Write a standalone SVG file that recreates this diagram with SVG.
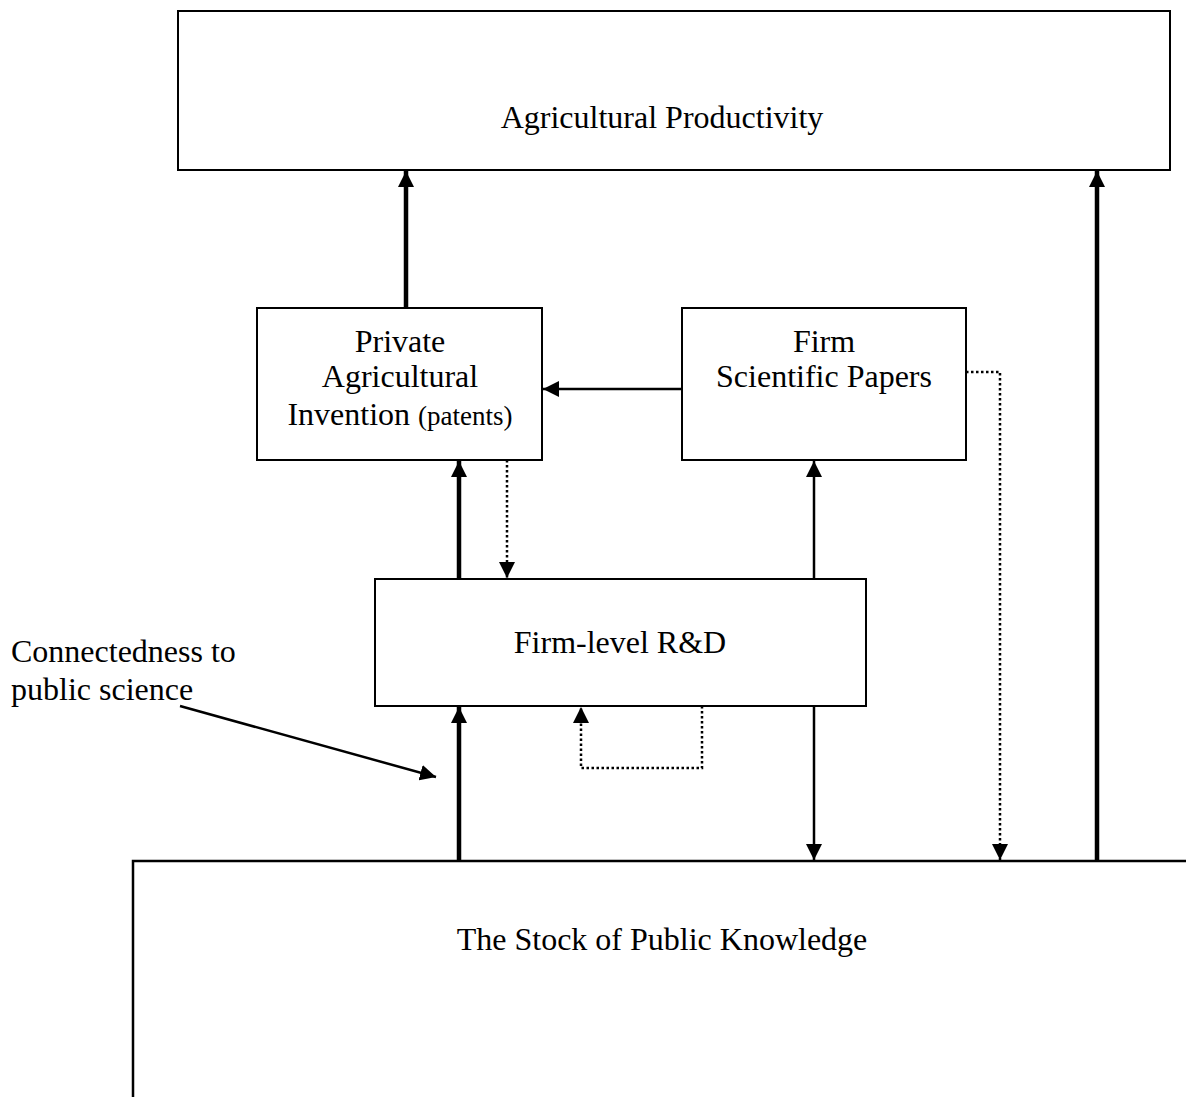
<svg xmlns="http://www.w3.org/2000/svg" width="1186" height="1097" viewBox="0 0 1186 1097">
<style>
.box{fill:#fff;stroke:#000;stroke-width:2}
.t{font-family:"Liberation Serif","Times New Roman",serif;font-size:32px;fill:#000}
.thick{stroke:#000;stroke-width:4.5;fill:none}
.thin{stroke:#000;stroke-width:2.5;fill:none}
.dot{stroke:#000;stroke-width:2.5;fill:none;stroke-dasharray:2.5 2.5}
</style>
<defs>
<marker id="ah" markerUnits="userSpaceOnUse" markerWidth="16" markerHeight="16" viewBox="0 0 16 16" refX="16" refY="8" orient="auto">
<path d="M0,0 L16,8 L0,16 Z" fill="#000"/>
</marker>
</defs>
<g id="agricultural-productivity">
<rect class="box" x="178" y="11" width="992" height="159"/>
<text class="t" x="662" y="128" text-anchor="middle">Agricultural Productivity</text>
</g>
<g id="private-invention">
<rect class="box" x="257" y="308" width="285" height="152"/>
<text class="t" x="400" y="352" text-anchor="middle">Private</text>
<text class="t" x="400" y="387" text-anchor="middle">Agricultural</text>
<text class="t" x="400" y="425" text-anchor="middle">Invention <tspan font-size="27">(patents)</tspan></text>
</g>
<g id="firm-papers">
<rect class="box" x="682" y="308" width="284" height="152"/>
<text class="t" x="824" y="352" text-anchor="middle">Firm</text>
<text class="t" x="824" y="387" text-anchor="middle">Scientific Papers</text>
</g>
<g id="firm-rd">
<rect class="box" x="375" y="579" width="491" height="127"/>
<text class="t" x="620" y="653" text-anchor="middle">Firm-level R&amp;D</text>
</g>
<g id="public-knowledge">
<path d="M1186,861 H133 V1097" fill="none" stroke="#000" stroke-width="2.5"/>
<text class="t" x="662" y="950" text-anchor="middle">The Stock of Public Knowledge</text>
</g>
<g id="connectedness-label">
<text class="t" x="11" y="662">Connectedness to</text>
<text class="t" x="11" y="700">public science</text>
</g>
<g id="connectors">
<line class="thick" x1="406" y1="308" x2="406" y2="171" marker-end="url(#ah)"/>
<line class="thick" x1="1097" y1="861" x2="1097" y2="171" marker-end="url(#ah)"/>
<line class="thin" x1="682" y1="389" x2="543" y2="389" marker-end="url(#ah)"/>
<line class="thick" x1="459" y1="579" x2="459" y2="461" marker-end="url(#ah)"/>
<line class="dot" x1="507" y1="460" x2="507" y2="578" marker-end="url(#ah)"/>
<line class="thin" x1="814" y1="579" x2="814" y2="461" marker-end="url(#ah)"/>
<line class="thick" x1="459" y1="861" x2="459" y2="707" marker-end="url(#ah)"/>
<polyline class="dot" points="702,706 702,768 581,768 581,707" marker-end="url(#ah)"/>
<line class="thin" x1="814" y1="706" x2="814" y2="860" marker-end="url(#ah)"/>
<polyline class="dot" points="966,372 1000,372 1000,860" marker-end="url(#ah)"/>
<line class="thin" x1="180" y1="706" x2="436" y2="777" marker-end="url(#ah)"/>
</g>
</svg>
